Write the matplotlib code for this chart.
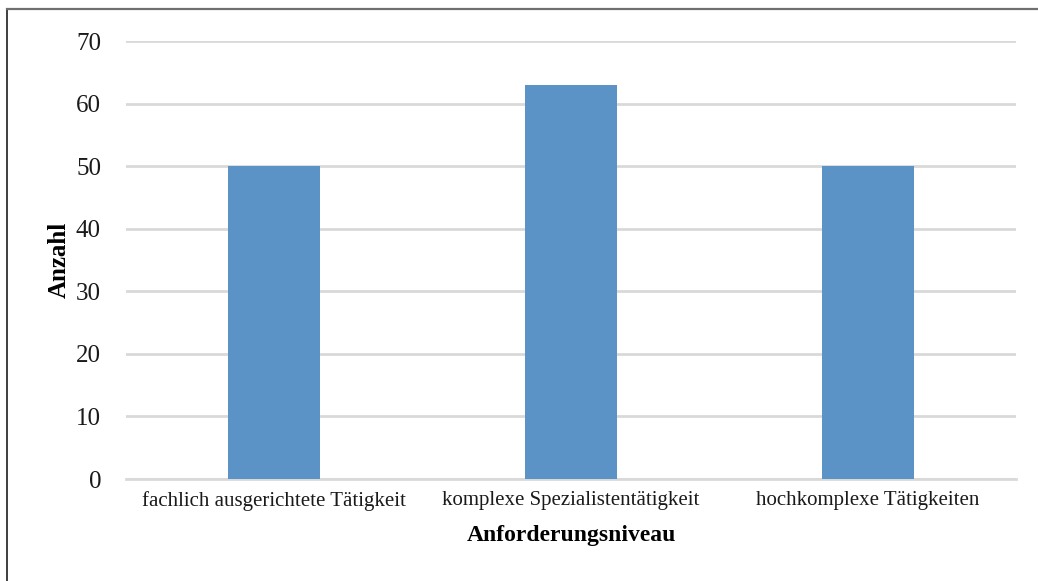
import matplotlib
matplotlib.use("Agg")
import matplotlib.pyplot as plt
from matplotlib.lines import Line2D

categories = ["fachlich ausgerichtete Tätigkeit", "komplexe Spezialistentätigkeit", "hochkomplexe Tätigkeiten"]
values = [50, 63, 50]
yticks = [0, 10, 20, 30, 40, 50, 60, 70]

plt.rcParams['font.family'] = ['Liberation Serif', 'DejaVu Serif']

W, H = 1038, 581
fig = plt.figure(figsize=(W/100, H/100), dpi=100)
ax = fig.add_axes([126/W, 1-479/H, (1016-126)/W, (479-41)/H])

x = list(range(len(categories)))
ax.bar(x, values, width=0.31, color='#5b93c7', zorder=3)
ax.set_xlim(-0.5, len(categories)-0.5)
ax.set_ylim(0, 70)
ax.set_yticks(yticks)
ax.set_yticklabels([str(t) for t in yticks], fontsize=18, color='#1a1a1a')
ax.set_xticks(x)
ax.set_xticklabels(categories, fontsize=15, color='#1a1a1a')
ax.tick_params(axis='y', length=0, pad=18)
ax.tick_params(axis='x', length=0, pad=9)
ax.grid(axis='y', color='#d9d9d9', lw=2, zorder=0)
for s in ['top', 'right', 'left']:
    ax.spines[s].set_visible(False)
ax.spines['bottom'].set_color('#d9d9d9')
ax.spines['bottom'].set_linewidth(2)
ax.set_ylabel("Anzahl", fontsize=18, fontweight='bold', labelpad=4)
ax.set_xlabel("Anforderungsniveau", fontsize=17, fontweight='bold', labelpad=10)

fig.add_artist(Line2D([7/W, 7/W], [0, 1-9/H], color='#303030', lw=1.3, transform=fig.transFigure))
fig.add_artist(Line2D([7/W, 1], [1-9/H, 1-9/H], color='#707070', lw=1.6, transform=fig.transFigure))

fig.savefig("out.png", dpi=100)
